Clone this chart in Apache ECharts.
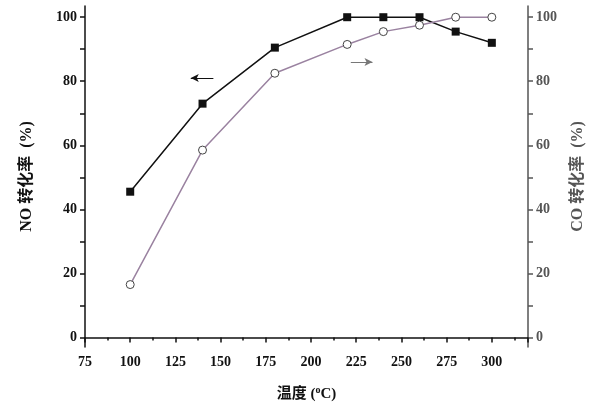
<!DOCTYPE html>
<html><head><meta charset="utf-8">
<script src="https://cdn.jsdelivr.net/npm/echarts@6/dist/echarts.min.js"></script>
<style>html,body{margin:0;background:#fff}#c{width:600px;height:418px}</style>
</head><body><div id="c"></div>
<script>
const temps = [100, 140, 180, 220, 240, 260, 280, 300];
const noConv = [45.5, 73, 90.5, 100, 100, 100, 95.5, 92];
const coConv = [16.5, 58.5, 82.5, 91.5, 95.5, 97.5, 100, 100];
const yTicks = [0, 20, 40, 60, 80, 100];
const yMinor = [10, 30, 50, 70, 90];

const chart = echarts.init(document.getElementById('c'));
const font = 'Liberation Serif';
const cjk = '"Liberation Serif","Noto Sans CJK SC"';
function axisStyle(color) {
    return {
        axisLine: { show: true, lineStyle: { color: color, width: 1.5 } },
        axisTick: { show: true, inside: false, length: 5, lineStyle: { color: color, width: 1.5 } },
        minorTick: { show: true, splitNumber: 2, length: 3, lineStyle: { color: color, width: 1.5 } },
        splitLine: { show: false },
        axisLabel: { color: color, fontFamily: font, fontWeight: 'bold', fontSize: 14 }
    };
}
function yAxis(color, extra) {
    const a = Object.assign({ type: 'value', min: -3, max: 103.5 }, axisStyle(color), extra);
    a.axisTick.customValues = yTicks.concat(yMinor);
    a.axisLabel.customValues = yTicks;
    a.minorTick.show = false;
    return a;
}
const option = {
    backgroundColor: '#fff',
    animation: false,
    grid: { left: 85, right: 72, top: 6, bottom: 71 },
    xAxis: Object.assign({
        type: 'value', min: 75, max: 320, interval: 25,
        name: '{a|温度 (}{s|o}{a|C)}', nameLocation: 'middle', nameGap: 38,
        nameTextStyle: { rich: {
            a: { fontFamily: cjk, fontWeight: 'bold', fontSize: 15, color: '#111' },
            s: { fontFamily: font, fontWeight: 'bold', fontSize: 10, color: '#111', verticalAlign: 'top', padding: [0, 0, 8, 0] }
        } }
    }, axisStyle('#111')),
    yAxis: [
        yAxis('#111', {
            name: 'NO 转化率  (%)', nameLocation: 'middle', nameGap: 50,
            nameTextStyle: { fontFamily: cjk, fontWeight: 'bold', fontSize: 16, color: '#111' }
        }),
        yAxis('#555', {
            position: 'right',
            name: 'CO 转化率  (%)', nameLocation: 'middle', nameGap: 42, nameRotate: 90,
            nameTextStyle: { fontFamily: cjk, fontWeight: 'bold', fontSize: 16, color: '#555' }
        })
    ],
    series: [
        {
            type: 'line', data: temps.map((t, i) => [t, noConv[i]]),
            symbol: 'rect', symbolSize: 8,
            lineStyle: { color: '#111', width: 1.5 }, itemStyle: { color: '#111' },
            markLine: {
                silent: true, symbol: ['arrow', 'none'], symbolSize: [6, 8],
                lineStyle: { color: '#111', width: 1, type: 'solid' }, label: { show: false },
                data: [[{ coord: [133.5, 81] }, { coord: [146, 81] }]]
            }
        },
        {
            type: 'line', yAxisIndex: 1, data: temps.map((t, i) => [t, coConv[i]]),
            symbol: 'circle', symbolSize: 8,
            lineStyle: { color: '#9a82a0', width: 1.5 },
            itemStyle: { color: '#fff', borderColor: '#444', borderWidth: 1 },
            markLine: {
                silent: true, symbol: ['none', 'arrow'], symbolSize: [6, 8],
                lineStyle: { color: '#777', width: 1, type: 'solid' }, label: { show: false },
                data: [[{ coord: [222, 86] }, { coord: [234, 86] }]]
            }
        }
    ]
};
option.xAxis.axisLabel.showMaxLabel = false;
chart.setOption(option);
</script></body></html>
